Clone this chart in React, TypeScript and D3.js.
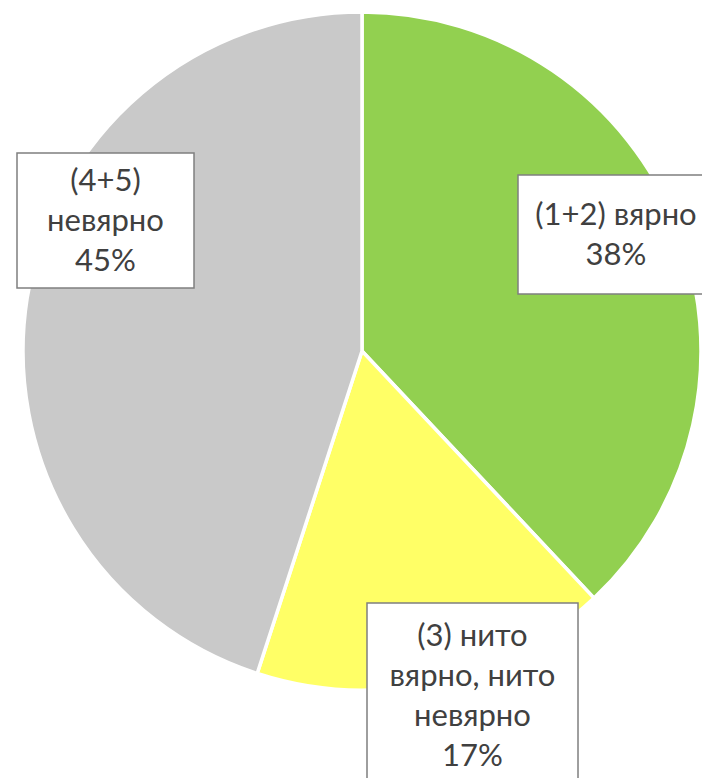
import React from 'react';
import * as d3 from 'd3';

// slice data, clockwise from 12 o'clock
const categories = ['(1+2) вярно', '(3) нито вярно, нито невярно', '(4+5) невярно'];
const values = [38, 17, 45];
const colors = ['#92D050', '#FFFF66', '#C9C9C9'];

// label text lines as they wrap in the picture
const labelLines = [
  ['(1+2) вярно', '38%'],
  ['(3) нито', 'вярно, нито', 'невярно', '17%'],
  ['(4+5)', 'невярно', '45%'],
];

// label boxes (left, top, width, height) placed by hand like in the original
const labelBoxes = [
  { x: 518, y: 175, w: 196, h: 119 },
  { x: 367, y: 603, w: 211, h: 185 },
  { x: 17, y: 153, w: 177, h: 135 },
];

const width = 702;
const height = 778;
const cx = 362;
const cy = 351;
const radius = 339;

export default function App() {
  const pie = d3
    .pie<number>()
    .sort(null)
    .value(d => d);
  const arcs = pie(values);
  const arc = d3.arc<d3.PieArcDatum<number>>().innerRadius(0).outerRadius(radius);

  const lineH = 40;
  const fontSize = 31;

  return (
    <svg
      width={width}
      height={height}
      style={{ position: 'absolute', left: 0, top: 0, background: '#fff' }}
      fontFamily="Lato, 'Open Sans', sans-serif"
    >
      <g transform={`translate(${cx},${cy})`}>
        {arcs.map((a, i) => (
          <path key={categories[i]} d={arc(a) || ''} fill={colors[i]} stroke="#fff" strokeWidth={3.5} />
        ))}
      </g>
      {labelBoxes.map((b, i) => {
        const lines = labelLines[i];
        const midY = b.y + b.h / 2;
        const firstY = midY - ((lines.length - 1) * lineH) / 2;
        return (
          <g key={i}>
            <rect x={b.x} y={b.y} width={b.w} height={b.h} fill="#fff" stroke="#7F7F7F" strokeWidth={1.5} />
            {lines.map((t, j) => (
              <text
                key={j}
                x={b.x + b.w / 2}
                y={firstY + j * lineH}
                dy="0.35em"
                textAnchor="middle"
                fontSize={fontSize}
                fill="#404040"
              >
                {t}
              </text>
            ))}
          </g>
        );
      })}
    </svg>
  );
}
